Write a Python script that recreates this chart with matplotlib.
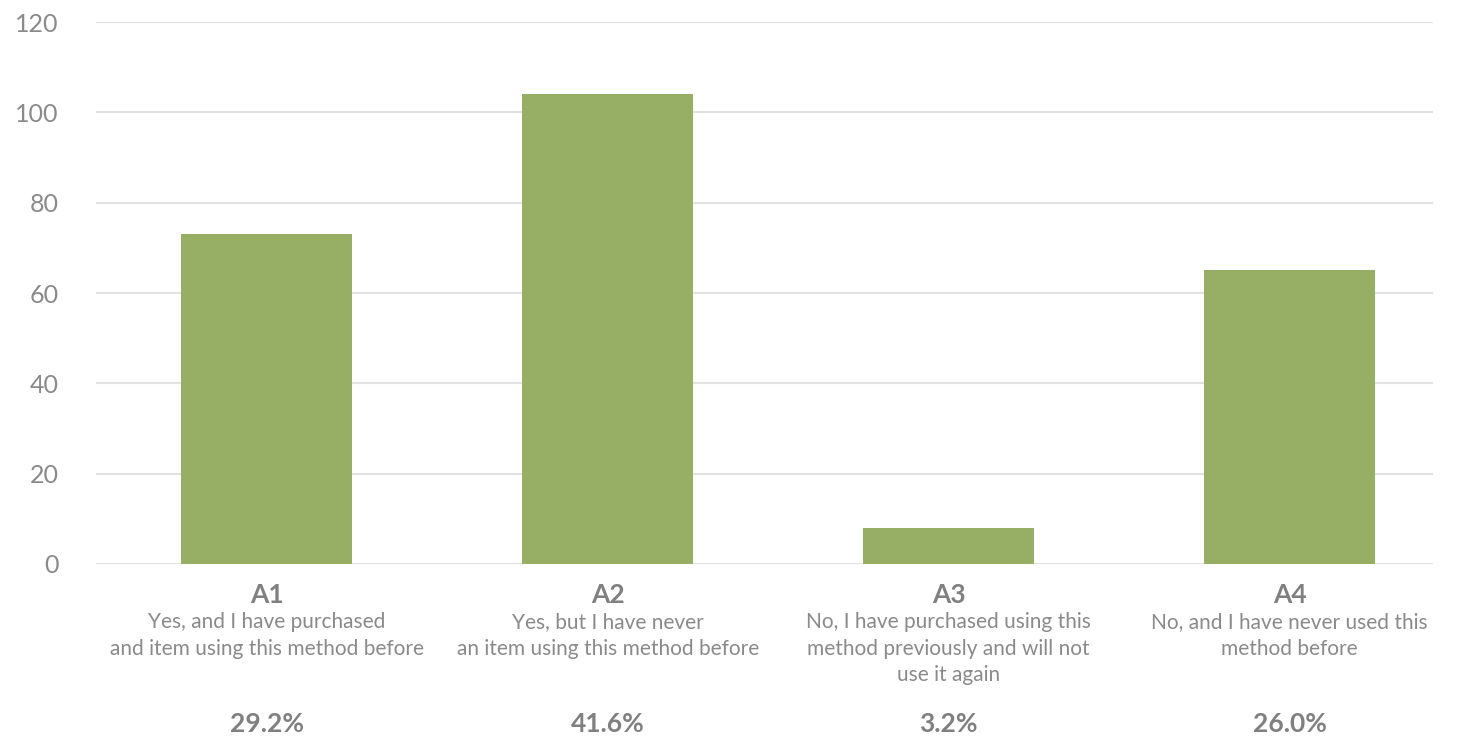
import matplotlib
matplotlib.use("Agg")
import matplotlib.pyplot as plt

# Survey answers and counts
codes = ["A1", "A2", "A3", "A4"]
descriptions = [
    "Yes, and I have purchased\nand item using this method before",
    "Yes, but I have never\nan item using this method before",
    "No, I have purchased using this\nmethod previously and will not\nuse it again",
    "No, and I have never used this\nmethod before",
]
counts = [73, 104, 8, 65]
percents = ["29.2%", "41.6%", "3.2%", "26.0%"]
yticks = [0, 20, 40, 60, 80, 100, 120]

BAR_COLOR = "#97af65"
TEXT_COLOR = "#8a8a8a"
GRID_COLOR = "#e2e2e2"

plt.rcParams["font.family"] = ["Lato", "DejaVu Sans"]

fig = plt.figure(figsize=(14.66, 7.36), dpi=100)
ax = fig.add_axes([0.0655, 0.2337, 0.912, 0.7364])

x = list(range(len(codes)))
ax.bar(x, counts, width=0.5, color=BAR_COLOR, zorder=3)

ax.set_xlim(-0.5, 3.42)
ax.set_ylim(0, 120)
ax.set_yticks(yticks)
ax.set_yticklabels([str(v) for v in yticks], fontsize=18, color=TEXT_COLOR)
ax.tick_params(axis="y", length=0, pad=27)
ax.set_xticks([])
ax.grid(axis="y", color=GRID_COLOR, linewidth=1.5, zorder=0)
for side in ["top", "right", "left", "bottom"]:
    ax.spines[side].set_visible(False)

# category labels below the axis
for i, (code, desc, pct) in enumerate(zip(codes, descriptions, percents)):
    ax.annotate(code, xy=(i, 0), xycoords="data", xytext=(0, -22),
                textcoords="offset points", ha="center", va="center",
                fontsize=19, fontweight="bold", color="#808080")
    ax.annotate(desc, xy=(i, 0), xycoords="data", xytext=(0, -34.5),
                textcoords="offset points", ha="center", va="top",
                fontsize=15, color=TEXT_COLOR, linespacing=1.42)
    ax.annotate(pct, xy=(i, 0), xycoords="data", xytext=(0, -115.5),
                textcoords="offset points", ha="center", va="center",
                fontsize=19, fontweight="bold", color="#808080")

fig.savefig("out.png", dpi=100)
